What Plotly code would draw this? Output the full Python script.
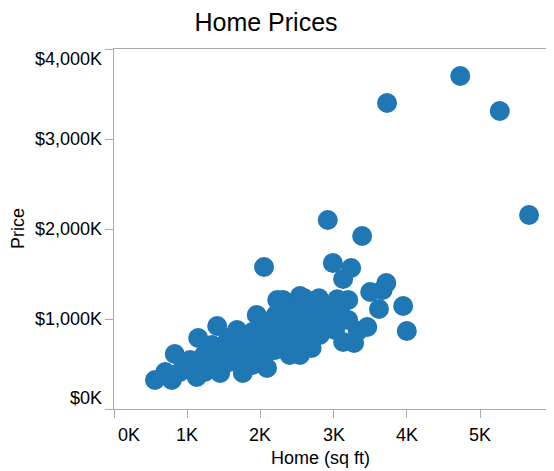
import plotly.graph_objects as go

# Home size (thousand sq ft) and price (thousand $)
sqft_k = [3.73, 4.73, 5.27, 5.67, 2.92, 3.39, 2.05, 2.99, 3.24, 3.13,
          3.50, 3.72, 3.67, 3.95, 3.62, 4.00, 3.46, 3.33, 3.28, 3.13,
          3.20, 3.09, 2.86, 2.54, 2.31, 2.70, 2.98, 2.23,
          0.56, 0.79, 0.83, 1.15, 1.41, 1.68, 1.95, 1.13, 1.45, 1.76,
          2.09, 2.40, 2.54,
          0.97, 1.17, 1.31, 1.52, 1.65, 1.86, 1.99, 2.13, 2.27, 2.40,
          2.54, 2.68, 2.81, 2.95, 1.24, 1.58, 1.86, 2.06, 2.20, 2.34,
          2.47, 2.61, 2.81, 3.02, 2.75, 2.40, 2.06, 1.79, 1.56, 1.34,
          1.04, 0.90, 0.70,
          1.07, 1.23, 1.39, 1.39, 1.56, 1.56, 1.72, 1.72, 1.89, 1.89,
          1.89, 2.05, 2.05, 2.05, 2.21, 2.21, 2.21, 2.38, 2.38, 2.38,
          2.54, 2.54, 2.54, 2.70, 2.70, 2.87, 2.87, 3.03, 3.20, 2.60,
          2.80, 3.05]
price_k = [3400, 3700, 3311, 2155, 2100, 1922, 1578, 1622, 1567, 1444,
           1300, 1400, 1322, 1144, 1111, 867, 911, 867, 733, 744,
           1211, 1133, 1156, 1256, 1211, 678, 900, 1211,
           322, 322, 611, 789, 922, 878, 1044, 356, 400, 400,
           456, 600, 600,
           456, 522, 600, 633, 711, 656, 767, 878, 767, 989,
           878, 1044, 989, 1044, 411, 522, 544, 600, 656, 711,
           767, 822, 822, 878, 1156, 1100, 933, 822, 789, 711,
           544, 411, 411,
           522, 600, 656, 522, 767, 567, 744, 544, 856, 656,
           489, 967, 767, 589, 1044, 856, 678, 1078, 900, 722,
           1100, 933, 744, 1078, 900, 1078, 878, 1044, 989, 1230,
           1230, 1220]

x_ticks = [0, 1, 2, 3, 4, 5]
x_tick_labels = ["0K", "1K", "2K", "3K", "4K", "5K"]
y_ticks = [0, 1000, 2000, 3000, 4000]
y_tick_labels = ["$0K", "$1,000K", "$2,000K", "$3,000K", "$4,000K"]

FONT = "Liberation Sans, Arial, Helvetica, sans-serif"
AXIS = "#aaaaaa"

# page has an 8px body margin; figure coordinates are page minus 8
W, H = 546, 463
L, R, T, B = 106, 546, 41, 401
PW, PH = R - L, B - T

fig = go.Figure()
fig.add_trace(go.Scatter(
    x=sqft_k, y=price_k, mode="markers",
    marker=dict(size=20, color="#1f77b4", line=dict(width=0)),
    cliponaxis=False, hoverinfo="skip", showlegend=False,
))

annotations = []
for v, t in zip(y_ticks, y_tick_labels):
    if v == y_ticks[-1]:
        ya, ys = "top", 2
    elif v == y_ticks[0]:
        ya, ys = "bottom", -1
    else:
        ya, ys = "middle", 0
    annotations.append(dict(x=0, xref="paper", y=v, yref="y", text=t,
                            xanchor="right", yanchor=ya, xshift=-10, yshift=ys,
                            showarrow=False, font=dict(size=18, color="#000", family=FONT)))
for v, t in zip(x_ticks, x_tick_labels):
    xa = "left" if v == x_ticks[0] else "center"
    xs = 2 if v == x_ticks[0] else 0
    annotations.append(dict(x=v, xref="x", y=0, yref="paper", text=t,
                            xanchor=xa, yanchor="middle", xshift=xs, yshift=-26,
                            showarrow=False, font=dict(size=18, color="#000", family=FONT)))
annotations.append(dict(x=(312 - L) / PW, xref="paper", y=(B - 450) / PH, yref="paper",
                        text="Home (sq ft)", xanchor="center", yanchor="middle",
                        showarrow=False, font=dict(size=18, color="#000", family=FONT)))
annotations.append(dict(x=(10 - L) / PW, xref="paper", y=2000, yref="y",
                        text="Price", textangle=-90, xanchor="center", yanchor="middle",
                        showarrow=False, font=dict(size=18, color="#000", family=FONT)))

fig.update_layout(
    width=W, height=H,
    margin=dict(l=L, r=W - R, t=T, b=H - B, pad=0),
    paper_bgcolor="white", plot_bgcolor="white",
    title=dict(text="Home Prices", x=258 / W, xref="container", xanchor="center",
               y=1 - 14 / H, yref="container", yanchor="middle",
               font=dict(size=25, color="#000", family=FONT)),
    xaxis=dict(range=[0, PW / 73.2], tickvals=x_ticks, showticklabels=False,
               showgrid=False, zeroline=False, showline=True, linecolor=AXIS,
               linewidth=1, mirror=True, ticks="outside", ticklen=8,
               tickcolor=AXIS, tickwidth=1),
    yaxis=dict(range=[0, 4000], tickvals=y_ticks, showticklabels=False,
               showgrid=False, zeroline=False, showline=True, linecolor=AXIS,
               linewidth=1, ticks="outside", ticklen=8, tickcolor=AXIS, tickwidth=1),
    annotations=annotations,
)

fig.write_html("out.html")
